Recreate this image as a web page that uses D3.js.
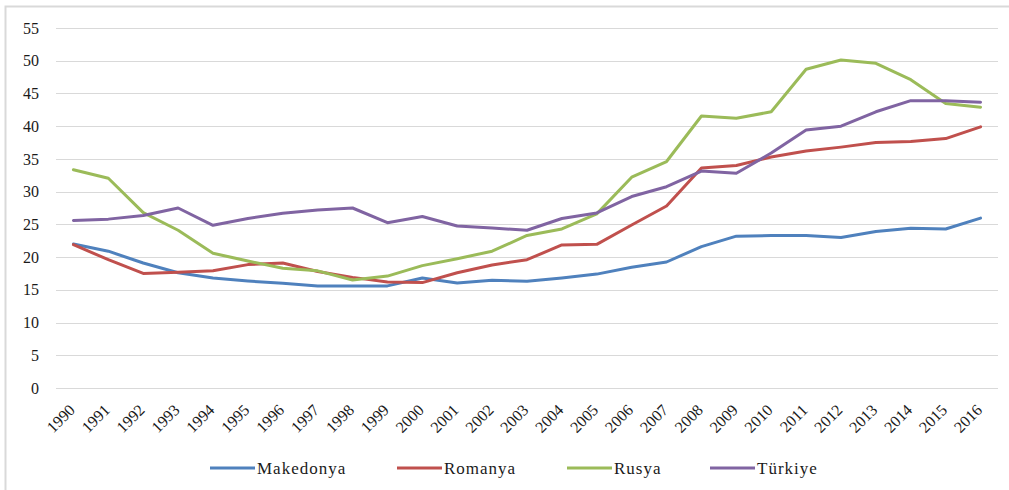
<!DOCTYPE html>
<html>
<head>
<meta charset="utf-8">
<script src="https://cdn.jsdelivr.net/npm/d3@7"></script>
<style>
  html, body { margin: 0; padding: 0; background: #fff; }
  svg { display: block; }
</style>
</head>
<body>
<svg id="chart" width="1009" height="490" font-family="Liberation Serif"></svg>
<script>
const years = [1990,1991,1992,1993,1994,1995,1996,1997,1998,1999,2000,2001,2002,2003,2004,2005,2006,2007,2008,2009,2010,2011,2012,2013,2014,2015,2016];
const yTicks = [0,5,10,15,20,25,30,35,40,45,50,55];
const seriesNames = ["Makedonya","Romanya","Rusya","Türkiye"];
const makedonya = [22.0,20.9,19.1,17.6,16.8,16.35,16.0,15.6,15.6,15.6,16.8,16.05,16.45,16.3,16.8,17.4,18.45,19.25,21.6,23.2,23.3,23.3,23.0,23.9,24.4,24.3,25.95];
const romanya   = [21.9,19.6,17.5,17.7,17.9,18.85,19.1,17.8,16.9,16.2,16.1,17.6,18.8,19.6,21.85,21.95,24.9,27.8,33.6,34.0,35.3,36.2,36.8,37.5,37.65,38.1,39.9];
const rusya     = [33.35,32.05,26.8,24.1,20.6,19.4,18.3,17.9,16.5,17.1,18.7,19.75,20.9,23.3,24.3,26.6,32.2,34.6,41.55,41.2,42.2,48.7,50.1,49.6,47.1,43.45,42.9];
const turkiye   = [25.6,25.8,26.35,27.5,24.85,25.9,26.7,27.2,27.5,25.25,26.2,24.75,24.45,24.1,25.9,26.75,29.25,30.75,33.15,32.8,35.9,39.4,40.0,42.2,43.9,43.9,43.65];
const colors = ["#4F81BD","#C0504D","#9BBB59","#8064A2"];

const svg = d3.select("#chart");
const plotLeft = 56, plotRight = 998, plotTop = 28, plotBottom = 388;
const serif = "Liberation Serif";

// outer border
svg.append("rect").attr("x", 5.5).attr("y", 6.5).attr("width", 1020).attr("height", 500)
  .attr("fill", "none").attr("stroke", "#d9d9d9").attr("stroke-width", 2);

const x = d3.scalePoint().domain(years).range([plotLeft, plotRight]).padding(0.5);
const y = d3.scaleLinear().domain([0, 55]).range([plotBottom, plotTop]);

// gridlines
svg.append("g").selectAll("line").data(yTicks).join("line")
  .attr("x1", plotLeft).attr("x2", plotRight)
  .attr("y1", d => Math.round(y(d)) + 0.5).attr("y2", d => Math.round(y(d)) + 0.5)
  .attr("stroke", "#d9d9d9").attr("stroke-width", 1);

// y axis labels
const yAxis = d3.axisLeft(y).tickValues(yTicks).tickSize(0).tickPadding(0);
const gy = svg.append("g").attr("transform", "translate(39,0)").call(yAxis)
  .attr("font-family", serif).attr("font-size", 16);
gy.select(".domain").remove();
gy.selectAll("text").attr("font-family", serif).attr("font-size", 16).attr("fill", "#1a1a1a");

// x axis labels
const xAxis = d3.axisBottom(x).tickSize(0).tickPadding(0);
const gx = svg.append("g").attr("transform", `translate(0,${plotBottom})`).call(xAxis)
  .attr("font-family", serif).attr("font-size", 16);
gx.select(".domain").remove();
gx.selectAll("text")
  .attr("font-family", serif).attr("font-size", 16).attr("fill", "#1a1a1a")
  .attr("text-anchor", "end").attr("dy", null).attr("y", null)
  .attr("transform", "translate(2,23) rotate(-45)");

// lines
const data = [makedonya, romanya, rusya, turkiye];
const line = d3.line().x((d, i) => x(years[i])).y(d => y(d));
svg.append("g").selectAll("path").data(data).join("path")
  .attr("d", line).attr("fill", "none")
  .attr("stroke", (d, i) => colors[i]).attr("stroke-width", 3)
  .attr("stroke-linejoin", "round").attr("stroke-linecap", "round");

// legend
const legendStarts = [210, 397, 567, 710];
const lg = svg.append("g").selectAll("g").data(seriesNames).join("g")
  .attr("transform", (d, i) => `translate(${legendStarts[i]},468)`);
lg.append("line").attr("x1", 0).attr("x2", 45).attr("y1", 0).attr("y2", 0)
  .attr("stroke", (d, i) => colors[i]).attr("stroke-width", 3);
lg.append("text").attr("x", 47).attr("y", 6)
  .attr("font-family", serif).attr("font-size", 17).attr("letter-spacing", 1).attr("fill", "#1a1a1a")
  .text(d => d);
</script>
</body>
</html>
